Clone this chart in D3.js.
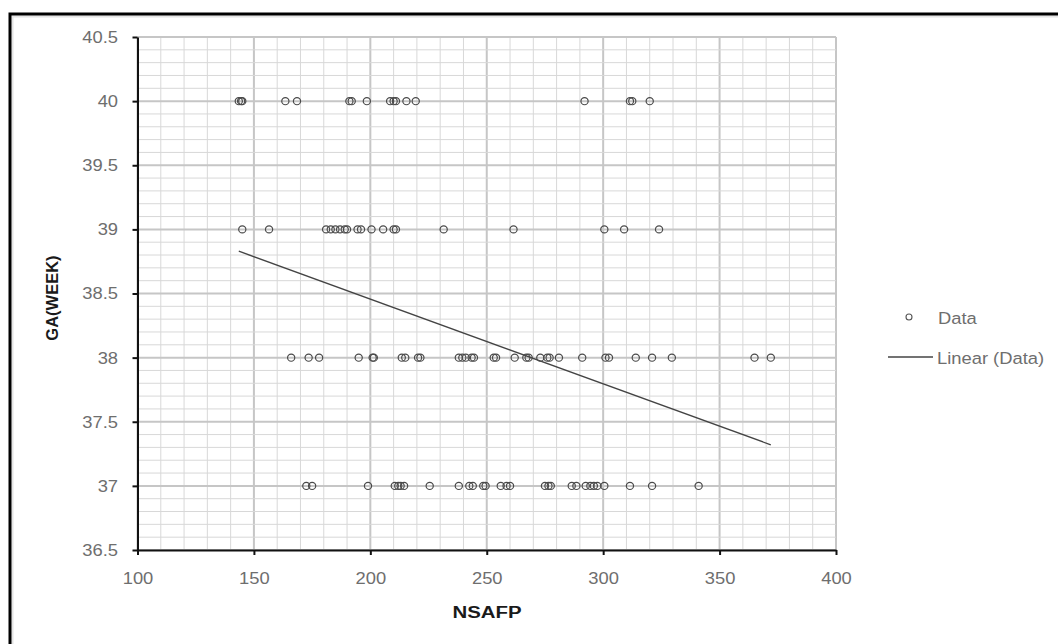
<!DOCTYPE html>
<html>
<head>
<meta charset="utf-8">
<script src="https://cdn.jsdelivr.net/npm/d3@7"></script>
<style>
    body { margin: 0; background: #fff; }
    svg { display: block; font-family: "Liberation Sans", Arial, sans-serif; }
</style>
</head>
<body>
<div id="chart"></div>
<script>
// NSAFP readings grouped by gestational age (weeks)
let gaLevels = [40, 39, 38, 37];
let nsafpAt40 = [143.5, 144.5, 145, 163.5, 168.5, 191, 192, 198.5, 208.5, 210, 211, 215.5, 219.5, 292, 311.5, 312.5, 320];
let nsafpAt39 = [145, 156.5, 181, 183, 185, 187, 189, 190, 194.5, 196, 200.5, 205.5, 210, 211, 231.5, 261.5, 300.5, 309, 324];
let nsafpAt38 = [166, 173.5, 178, 195, 201, 201.5, 213.5, 215, 220.5, 221.5, 238, 239.5, 241, 243.5, 244.5, 253, 254,
    262, 267, 268, 273, 276, 277, 281, 291, 301, 302.5, 314, 321, 329.5, 365, 372];
let nsafpAt37 = [172.5, 175, 199, 210.5, 212, 213, 214.5, 225.5, 238, 242.5, 244, 248.5, 249.5, 256, 258.5, 260,
    275, 276.5, 277.5, 286.5, 288.5, 292.5, 294.5, 296, 297.5, 300.5, 311.5, 321, 341];

// linear trend line end points
let trendX = [143.5, 372];
let trendY = [38.83, 37.32];

let xTicks = [100, 150, 200, 250, 300, 350, 400];
let yTicks = [36.5, 37, 37.5, 38, 38.5, 39, 39.5, 40, 40.5];

let width = 1058, height = 644;
let plot = {left: 137.5, top: 37, right: 836, bottom: 550};
let stretch = 1.08;

let points = [];
[nsafpAt40, nsafpAt39, nsafpAt38, nsafpAt37].forEach(function(list, i) {
    list.forEach(function(v) { points.push({x: v, y: gaLevels[i]}); });
});

let svg = d3.select('#chart').append('svg')
    .attr('width', width)
    .attr('height', height);

// outer frame
svg.append('rect')
    .attr('x', 12.5).attr('y', 16.5)
    .attr('width', 1100).attr('height', 700)
    .attr('fill', 'none').attr('stroke', '#e4e4e4').attr('stroke-width', 2);
svg.append('rect')
    .attr('x', 10).attr('y', 14)
    .attr('width', 1100).attr('height', 700)
    .attr('fill', 'none').attr('stroke', '#000').attr('stroke-width', 3);

let x = d3.scaleLinear().domain([100, 400]).range([plot.left, plot.right]);
let y = d3.scaleLinear().domain([36.5, 40.5]).range([plot.bottom, plot.top]);

// grid
let grid = svg.append('g').attr('class', 'grid');
d3.range(0, 31).forEach(function(i) {
    let v = 100 + i * 10;
    grid.append('line')
        .attr('x1', x(v)).attr('x2', x(v))
        .attr('y1', plot.top).attr('y2', plot.bottom)
        .attr('stroke', i % 5 === 0 ? '#c6c6c6' : '#d8d8d8')
        .attr('stroke-width', i % 5 === 0 ? 2 : 1);
});
d3.range(0, 41).forEach(function(i) {
    let v = 36.5 + i * 0.1;
    grid.append('line')
        .attr('x1', plot.left).attr('x2', plot.right)
        .attr('y1', y(v)).attr('y2', y(v))
        .attr('stroke', i % 5 === 0 ? '#c6c6c6' : '#d8d8d8')
        .attr('stroke-width', i % 5 === 0 ? 2 : 1);
});

// axes
let yAxis = svg.append('g')
    .attr('transform', 'translate(' + plot.left + ',0)')
    .call(d3.axisLeft(y).tickValues(yTicks).tickFormat(d3.format('')).tickSize(5).tickSizeOuter(0).tickPadding(13));
let xAxis = svg.append('g')
    .attr('transform', 'translate(0,' + plot.bottom + ')')
    .call(d3.axisBottom(x).tickValues(xTicks).tickSize(5).tickSizeOuter(0).tickPadding(17));

[xAxis, yAxis].forEach(function(a) {
    a.select('.domain').attr('stroke', '#111').attr('stroke-width', 2);
    a.selectAll('.tick line').attr('stroke', '#111').attr('stroke-width', 2);
    a.selectAll('.tick text')
        .attr('fill', '#6e6e6e')
        .style('font-size', '17px')
        .style('font-family', '"Liberation Sans", Arial, sans-serif')
        .attr('transform', 'scale(' + stretch + ',1)');
});

// trend line
svg.append('line')
    .attr('x1', x(trendX[0])).attr('y1', y(trendY[0]))
    .attr('x2', x(trendX[1])).attr('y2', y(trendY[1]))
    .attr('stroke', '#444').attr('stroke-width', 1.4);

// data points
svg.append('g').selectAll('circle')
    .data(points)
    .enter().append('circle')
    .attr('cx', function(d) { return x(d.x); })
    .attr('cy', function(d) { return y(d.y); })
    .attr('r', 3.6)
    .attr('fill', 'none')
    .attr('stroke', '#4a4a4a')
    .attr('stroke-width', 1.2);

// axis titles
svg.append('text')
    .attr('transform', 'translate(487,618) scale(1.2,1)')
    .attr('text-anchor', 'middle')
    .attr('font-weight', 'bold')
    .attr('font-size', '17px')
    .attr('fill', '#1a1a1a')
    .text('NSAFP');

svg.append('text')
    .attr('transform', 'translate(58,298) rotate(-90)')
    .attr('text-anchor', 'middle')
    .attr('font-weight', 'bold')
    .attr('font-size', '16.5px')
    .attr('fill', '#1a1a1a')
    .text('GA(WEEK)');

// legend
let legend = svg.append('g');
legend.append('circle')
    .attr('cx', 909).attr('cy', 317).attr('r', 3)
    .attr('fill', 'none').attr('stroke', '#555').attr('stroke-width', 1.1);
legend.append('text')
    .attr('transform', 'translate(938,324) scale(' + stretch + ',1)')
    .attr('font-size', '17px').attr('fill', '#6e6e6e')
    .text('Data');
legend.append('line')
    .attr('x1', 888).attr('x2', 933)
    .attr('y1', 357).attr('y2', 357)
    .attr('stroke', '#444').attr('stroke-width', 1.4);
legend.append('text')
    .attr('transform', 'translate(937,364) scale(' + stretch + ',1)')
    .attr('font-size', '17px').attr('fill', '#6e6e6e')
    .text('Linear (Data)');
</script>
</body>
</html>
